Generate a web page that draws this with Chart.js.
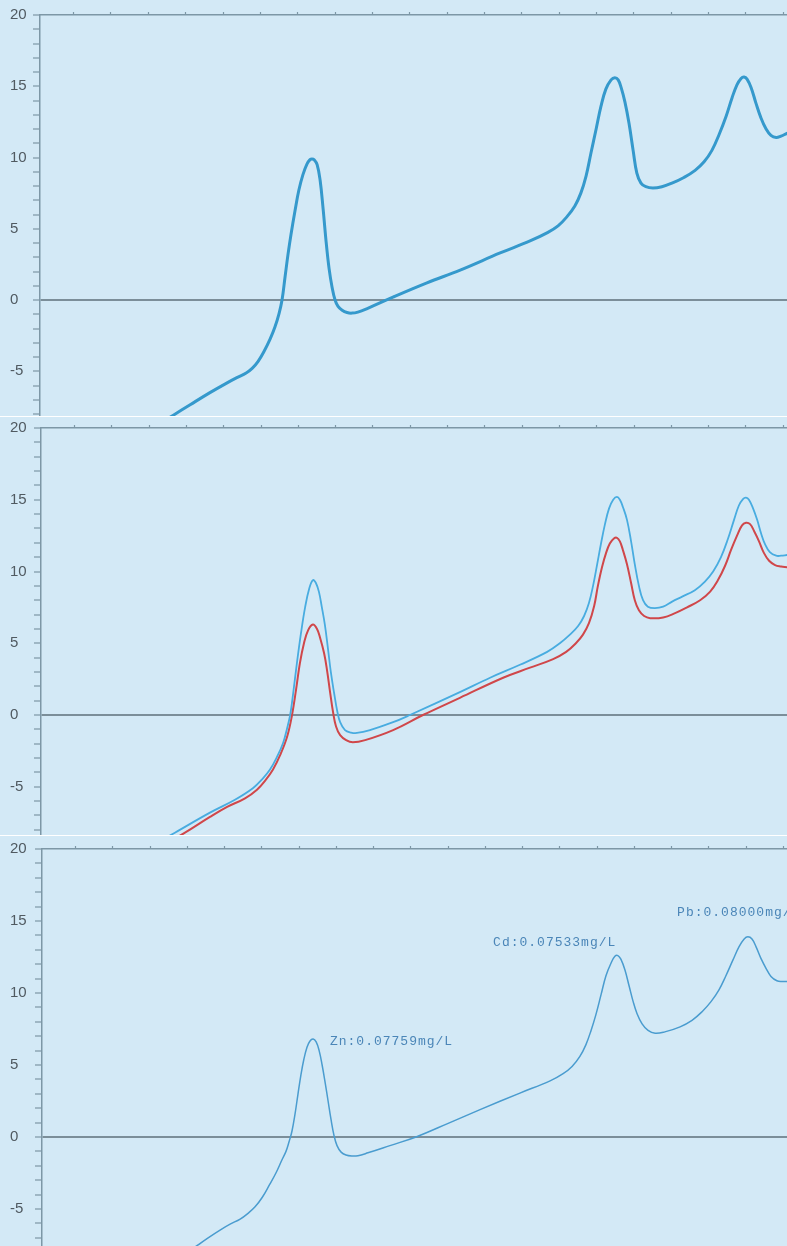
<!DOCTYPE html>
<html><head><meta charset="utf-8">
<script src="https://cdn.jsdelivr.net/npm/chart.js@4.4.1/dist/chart.umd.min.js"></script>
<style>
html,body{margin:0;padding:0;background:#ffffff;}
canvas{display:block;background:#d3e9f6;}
#c2,#c3{margin-top:1px;}
</style></head><body>
<canvas id="c1" width="787" height="416"></canvas>
<canvas id="c2" width="787" height="418"></canvas>
<canvas id="c3" width="787" height="410"></canvas>
<script>
// ---- tick labels ----
const yLabelValues = [-5, 0, 5, 10, 15, 20];
const yMax = 20;
const xMin = -0.9, xMax = 19.1;

// ---- panel 1: single scan ----
const p1X = [2.31,2.66,3.12,3.65,4.05,4.37,4.62,4.78,4.94,5.10,5.26,5.39,5.50,5.58,5.66,5.74,5.82,5.93,6.03,6.14,6.25,6.33,6.38,6.44,6.52,6.60,6.68,6.76,6.84,6.92,7.00,7.08,7.19,7.32,7.45,7.61,7.86,8.55,9.46,10.35,11.42,12.22,12.70,12.97,13.21,13.42,13.58,13.72,13.85,13.99,14.12,14.25,14.39,14.49,14.58,14.66,14.76,14.87,14.98,15.08,15.19,15.32,15.51,15.75,16.02,16.34,16.64,16.88,17.09,17.28,17.47,17.63,17.76,17.87,17.95,18.03,18.14,18.27,18.40,18.54,18.67,18.81,18.94,19.10,19.31];
const p1Y = [-8.66,-8.1,-7.35,-6.5,-5.9,-5.45,-5.12,-4.8,-4.3,-3.6,-2.75,-1.9,-0.95,0,1.6,3.2,4.6,6.3,7.7,8.8,9.55,9.85,9.9,9.85,9.5,8.4,6.4,4.1,2.2,0.9,0.0,-0.45,-0.72,-0.88,-0.92,-0.85,-0.6,0.2,1.2,2.1,3.3,4.15,4.75,5.2,5.85,6.6,7.5,8.7,10.3,12.0,13.6,14.8,15.45,15.6,15.45,14.9,13.9,12.4,10.5,8.9,8.2,7.95,7.86,7.95,8.2,8.6,9.1,9.7,10.5,11.6,12.9,14.2,15.1,15.55,15.65,15.5,14.9,13.8,12.8,12.0,11.55,11.4,11.5,11.7,11.95];

// ---- panel 2: blue + red scans ----
const p2BlueX = [2.42,2.69,3.63,4.30,4.78,5.02,5.24,5.43,5.59,5.70,5.78,5.86,5.96,6.07,6.18,6.29,6.39,6.47,6.55,6.63,6.71,6.79,6.87,6.96,7.04,7.12,7.25,7.41,7.57,7.92,8.54,8.99,10.33,11.14,11.94,12.67,13.01,13.28,13.50,13.66,13.79,13.90,14.01,14.11,14.22,14.33,14.44,14.54,14.62,14.70,14.81,14.92,15.02,15.13,15.24,15.37,15.56,15.78,16.02,16.29,16.63,16.90,17.12,17.33,17.52,17.68,17.81,17.92,18.00,18.08,18.19,18.30,18.40,18.51,18.64,18.81,18.94,19.10];
const p2BlueY = [-8.6,-8.2,-6.8,-5.9,-5.1,-4.5,-3.8,-2.9,-1.95,-0.9,0,1.5,3.6,5.7,7.5,8.8,9.4,9.2,8.6,7.5,6.3,4.7,3.0,1.5,0.3,-0.5,-1.05,-1.22,-1.25,-1.05,-0.5,0.0,1.6,2.6,3.5,4.4,5.0,5.6,6.2,6.9,7.8,9.0,10.5,11.9,13.3,14.4,15.0,15.2,15.0,14.5,13.6,12.1,10.5,9.0,8.0,7.55,7.45,7.55,7.9,8.25,8.7,9.3,10.0,11.0,12.3,13.6,14.6,15.05,15.15,15.0,14.4,13.6,12.7,11.9,11.35,11.1,11.1,11.15];
const p2RedX = [2.69,2.96,3.63,4.09,4.57,4.89,5.13,5.32,5.51,5.70,5.83,5.94,6.04,6.15,6.26,6.39,6.50,6.58,6.69,6.77,6.85,6.93,7.01,7.12,7.28,7.46,7.79,8.54,9.34,10.33,11.49,12.21,12.83,13.18,13.44,13.63,13.79,13.93,14.03,14.14,14.25,14.35,14.46,14.54,14.62,14.70,14.81,14.92,15.02,15.13,15.27,15.43,15.78,16.10,16.42,16.77,17.04,17.25,17.44,17.60,17.76,17.89,18.00,18.11,18.22,18.35,18.48,18.62,18.78,18.94,19.10];
const p2RedY = [-8.6,-8.2,-7.1,-6.4,-5.8,-5.2,-4.5,-3.8,-2.8,-1.5,0,1.8,3.6,5.0,5.9,6.3,6.0,5.4,4.3,3.1,1.6,0.2,-0.8,-1.4,-1.75,-1.9,-1.75,-1.05,0,1.2,2.6,3.3,3.9,4.4,5.0,5.6,6.4,7.6,9.0,10.3,11.3,11.95,12.3,12.35,12.1,11.5,10.5,9.2,8.0,7.3,6.9,6.75,6.8,7.1,7.5,8.0,8.6,9.4,10.4,11.5,12.5,13.2,13.4,13.3,12.8,12.1,11.3,10.75,10.45,10.35,10.3];

// ---- panel 3: result scan ----
const p3X = [2.94,3.23,3.56,3.88,4.15,4.42,4.63,4.82,5.01,5.19,5.38,5.54,5.65,5.73,5.81,5.89,5.97,6.05,6.13,6.21,6.29,6.38,6.46,6.54,6.62,6.70,6.78,6.86,6.94,7.02,7.13,7.26,7.42,7.58,7.85,8.44,9.14,10.05,10.86,11.93,12.74,13.09,13.33,13.54,13.70,13.84,13.97,14.11,14.24,14.38,14.48,14.56,14.64,14.75,14.86,14.97,15.07,15.21,15.37,15.56,15.82,16.23,16.55,16.82,17.06,17.27,17.46,17.65,17.81,17.95,18.05,18.16,18.27,18.40,18.54,18.67,18.83,18.97,19.10];
const p3Y = [-8.1,-7.6,-7.0,-6.46,-6.05,-5.7,-5.3,-4.85,-4.2,-3.4,-2.5,-1.6,-1.0,-0.35,0.4,1.55,2.95,4.3,5.4,6.2,6.65,6.8,6.6,6.0,5.0,3.8,2.5,1.2,0.1,-0.6,-1.05,-1.25,-1.32,-1.3,-1.1,-0.6,0,1.0,1.9,3.05,3.9,4.4,4.9,5.6,6.4,7.4,8.5,9.9,11.2,12.1,12.55,12.6,12.35,11.6,10.5,9.4,8.6,7.85,7.4,7.2,7.3,7.65,8.1,8.7,9.4,10.2,11.2,12.3,13.2,13.75,13.9,13.75,13.2,12.4,11.7,11.15,10.85,10.8,10.8];

// ---- peak result labels (panel 3) ----
const peakLabels = ['Zn:0.07759mg/L', 'Cd:0.07533mg/L', 'Pb:0.08000mg/L'];
const peakLabelX = [6.83, 11.21, 16.15];
const peakLabelY = [6.6, 13.47, 15.6];

const AXIS = '#7d97a6';
const ZERO = '#7b8e99';
const TICKTXT = '#505a61';

function pts(xs, ys) { return xs.map((x, i) => ({x: x, y: ys[i]})); }
function line(xs, ys, color, width) {
  return { data: pts(xs, ys), borderColor: color, borderWidth: width, pointRadius: 0,
           fill: false, tension: 0.4, borderJoinStyle: 'round', borderCapStyle: 'round' };
}

const labelPlugin = {
  id: 'peakLabels',
  afterDatasetsDraw(chart) {
    const ctx = chart.ctx, xs = chart.scales.x, ys = chart.scales.y;
    ctx.save();
    ctx.font = '13px "Liberation Mono", "DejaVu Sans Mono", monospace';
    ctx.fillStyle = '#4b86b8';
    ctx.textBaseline = 'middle';
    ctx.textAlign = 'left';
    try { ctx.letterSpacing = '1px'; } catch (e) {}
    peakLabels.forEach((t, i) => {
      ctx.fillText(t, xs.getPixelForValue(peakLabelX[i]), ys.getPixelForValue(peakLabelY[i]));
    });
    ctx.restore();
  }
};

function makePanel(id, padTop, axisW, yMin, datasets, plugins) {
  return new Chart(document.getElementById(id), {
    type: 'line',
    data: { datasets: datasets },
    plugins: plugins || [],
    options: {
      responsive: false, animation: false, events: [],
      layout: { padding: { top: padTop, left: 10, right: 0, bottom: 0 } },
      plugins: { legend: { display: false }, tooltip: { enabled: false } },
      scales: {
        x: {
          type: 'linear', position: 'top', min: xMin, max: xMax,
          afterBuildTicks: (s) => {
            const t = [];
            for (let v = Math.ceil(xMin); v <= xMax; v++) t.push({ value: v });
            s.ticks = t;
          },
          afterFit: (s) => { s.height = 3; s.paddingLeft = 0; s.paddingRight = 0; },
          ticks: { display: false, autoSkip: false },
          grid: { drawOnChartArea: false, drawTicks: true, tickLength: 3, color: AXIS, tickWidth: 1.2 },
          border: { display: true, color: AXIS, width: 1.5 }
        },
        y: {
          type: 'linear', position: 'left', min: yMin, max: yMax,
          afterBuildTicks: (s) => {
            const t = [];
            for (let v = Math.ceil(yMin); v <= yMax; v++) t.push({ value: v });
            s.ticks = t;
          },
          afterFit: (s) => { s.width = axisW; s.paddingTop = 0; s.paddingBottom = 0; },
          ticks: {
            autoSkip: false, crossAlign: 'far', color: TICKTXT, padding: 4,
            font: { family: '"Liberation Sans", Arial, sans-serif', size: 15 },
            callback: (v) => yLabelValues.includes(v) ? String(v) : ''
          },
          grid: {
            drawOnChartArea: true, drawTicks: true, tickLength: 7,
            color: (c) => (c.tick && c.tick.value === 0) ? ZERO : 'rgba(0,0,0,0)',
            lineWidth: (c) => (c.tick && c.tick.value === 0) ? 2 : 0,
            tickColor: AXIS, tickWidth: 1.2
          },
          border: { display: true, color: AXIS, width: 1.5 }
        }
      }
    }
  });
}

makePanel('c1', 12, 30, -8.14, [line(p1X, p1Y, '#3599cc', 3)]);
makePanel('c2', 8, 31, -8.36, [
  line(p2BlueX, p2BlueY, '#48ace0', 1.8),
  line(p2RedX, p2RedY, '#d0474a', 2)
]);
makePanel('c3', 10, 32, -7.57, [line(p3X, p3Y, '#4a9ccf', 1.5)], [labelPlugin]);
</script>
</body></html>
